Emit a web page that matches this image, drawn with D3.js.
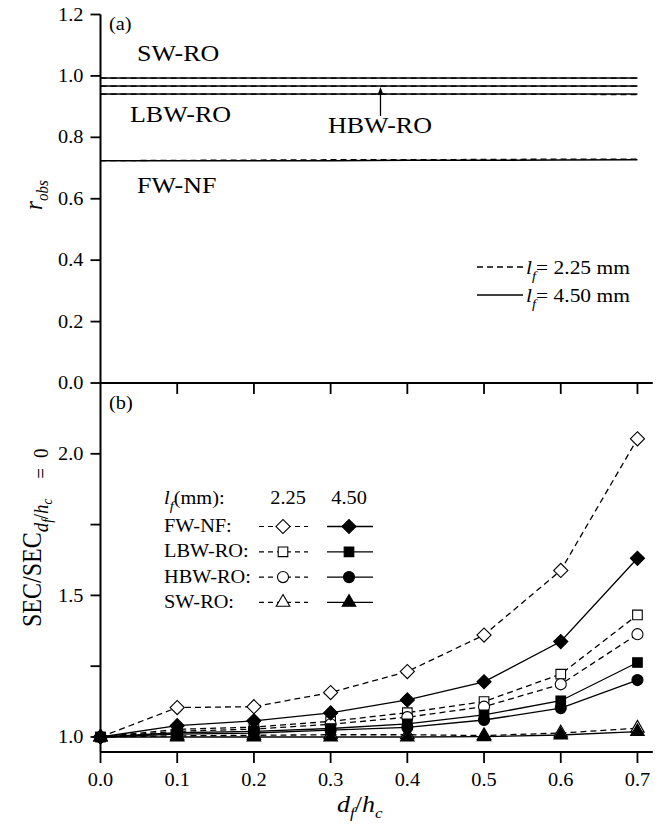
<!DOCTYPE html>
<html>
<head>
<meta charset="utf-8">
<script src="https://cdn.jsdelivr.net/npm/d3@7"></script>
<style>
  body { margin: 0; background: #fff; }
  svg { display: block; }
  text { font-family: "Liberation Serif", "Times New Roman", serif; fill: #000; }
</style>
</head>
<body>
<svg id="chart" width="661" height="825"></svg>
<script>
// ---- data ----------------------------------------------------------
const dfhc = [0, 0.1, 0.2, 0.3, 0.4, 0.5, 0.6, 0.7];
const configs = ["FW-NF", "LBW-RO", "HBW-RO", "SW-RO"];
const lfValues = ["2.25", "4.50"];

// (a) observed recovery r_obs
const robsFWNF225  = [0.724, 0.725, 0.726, 0.727, 0.727, 0.728, 0.729, 0.729];
const robsFWNF450  = [0.724, 0.724, 0.724, 0.724, 0.725, 0.725, 0.726, 0.727];
const robsLBWRO225 = [0.941, 0.941, 0.941, 0.941, 0.941, 0.941, 0.940, 0.939];
const robsLBWRO450 = [0.941, 0.941, 0.941, 0.941, 0.941, 0.941, 0.941, 0.941];
const robsHBWRO225 = [0.967, 0.967, 0.967, 0.967, 0.967, 0.967, 0.967, 0.967];
const robsHBWRO450 = [0.967, 0.967, 0.967, 0.967, 0.967, 0.967, 0.967, 0.967];
const robsSWRO225  = [0.993, 0.993, 0.993, 0.993, 0.993, 0.993, 0.993, 0.993];
const robsSWRO450  = [0.993, 0.993, 0.993, 0.993, 0.993, 0.993, 0.993, 0.993];

// (b) normalised specific energy consumption
const secFWNF225  = [1.0, 1.104, 1.107, 1.157, 1.231, 1.360, 1.588, 2.053];
const secFWNF450  = [1.0, 1.040, 1.057, 1.085, 1.131, 1.195, 1.337, 1.631];
const secLBWRO225 = [1.0, 1.027, 1.035, 1.055, 1.086, 1.125, 1.222, 1.431];
const secLBWRO450 = [1.0, 1.015, 1.020, 1.030, 1.046, 1.078, 1.128, 1.263];
const secHBWRO225 = [1.0, 1.020, 1.028, 1.045, 1.070, 1.107, 1.186, 1.363];
const secHBWRO450 = [1.0, 1.010, 1.014, 1.024, 1.034, 1.060, 1.102, 1.201];
const secSWRO225  = [1.0, 1.004, 1.006, 1.008, 1.008, 1.005, 1.014, 1.031];
const secSWRO450  = [1.0, 1.000, 1.000, 1.000, 1.000, 1.001, 1.007, 1.019];

const xTicks = [0, 0.1, 0.2, 0.3, 0.4, 0.5, 0.6, 0.7];
const aTicks = [0, 0.2, 0.4, 0.6, 0.8, 1.0, 1.2];
const bTicks = [1.0, 1.25, 1.5, 1.75, 2.0];
const bTickLabels = [1.0, 1.5, 2.0];

// ---- series tables --------------------------------------------------
const robsSeries = [
  { cfg: 0, lf: 0, v: robsFWNF225 },  { cfg: 0, lf: 1, v: robsFWNF450 },
  { cfg: 1, lf: 0, v: robsLBWRO225 }, { cfg: 1, lf: 1, v: robsLBWRO450 },
  { cfg: 2, lf: 0, v: robsHBWRO225 }, { cfg: 2, lf: 1, v: robsHBWRO450 },
  { cfg: 3, lf: 0, v: robsSWRO225 },  { cfg: 3, lf: 1, v: robsSWRO450 }
];
const secSeries = [
  { cfg: 0, lf: 0, v: secFWNF225 },  { cfg: 0, lf: 1, v: secFWNF450 },
  { cfg: 1, lf: 0, v: secLBWRO225 }, { cfg: 1, lf: 1, v: secLBWRO450 },
  { cfg: 2, lf: 0, v: secHBWRO225 }, { cfg: 2, lf: 1, v: secHBWRO450 },
  { cfg: 3, lf: 0, v: secSWRO225 },  { cfg: 3, lf: 1, v: secSWRO450 }
];

// ---- drawing ---------------------------------------------------------
const SX = 1.13;              // horizontal stretch applied to every text
const DASH = "6,4";
const svg = d3.select("#chart");

const x  = d3.scaleLinear().domain([0, 0.72]).range([100.5, 652.8]);
const yA = d3.scaleLinear().domain([0, 1.2]).range([383, 14.5]);
const yB = d3.scaleLinear().domain([0.947, 2.25]).range([752, 383]);

function richText(parent, px, py, parts, o = {}) {
  const size = o.size || 18;
  const tf = `translate(${px},${py})` +
    (o.rotate ? ` rotate(-90) scale(1,${SX})` : ` scale(${SX},1)`);
  const t = parent.append("text")
    .attr("transform", tf)
    .attr("text-anchor", o.anchor || "start")
    .attr("font-size", size);
  let cur = 0;
  parts.forEach(p => {
    const s = t.append("tspan").text(p.t);
    if (p.size) s.attr("font-size", p.size);
    if (p.it) s.attr("font-style", "italic");
    const target = p.dy || 0;
    if (target !== cur) s.attr("dy", target - cur);
    if (p.dx) s.attr("dx", p.dx);
    cur = target;
  });
  return t;
}

function styleAxis(g) {
  g.select(".domain").attr("stroke", "#000").attr("stroke-width", 2);
  g.selectAll(".tick line").attr("stroke", "#000").attr("stroke-width", 1.8);
}

// left axis, panel (a)
const axA = svg.append("g").attr("transform", "translate(100.5,0)")
  .call(d3.axisLeft(yA).tickValues(aTicks).tickFormat(d3.format(".1f"))
    .tickSize(10).tickSizeOuter(0).offset(0));
styleAxis(axA);
axA.selectAll(".tick text").attr("x", 0).attr("dy", "0.34em")
  .attr("font-size", 18).attr("font-family", null)
  .attr("transform", `translate(-17,0) scale(${SX},1)`);

// left axis, panel (b)
const axB = svg.append("g").attr("transform", "translate(100.5,0)")
  .call(d3.axisLeft(yB).tickValues(bTicks)
    .tickFormat(d => bTickLabels.includes(d) ? d3.format(".1f")(d) : "")
    .tickSize(10).tickSizeOuter(0).offset(0));
styleAxis(axB);
axB.selectAll(".tick text").attr("x", 0).attr("dy", "0.34em")
  .attr("font-size", 18).attr("font-family", null)
  .attr("transform", `translate(-17,0) scale(${SX},1)`);

// x axis between the panels (ticks only)
const axMid = svg.append("g").attr("transform", "translate(0,383)")
  .call(d3.axisBottom(x).tickValues(xTicks.slice(1)).tickFormat("")
    .tickSize(11).tickSizeOuter(0).offset(0));
styleAxis(axMid);

// bottom x axis
const axX = svg.append("g").attr("transform", "translate(0,752)")
  .call(d3.axisBottom(x).tickValues(xTicks).tickFormat(d3.format(".1f"))
    .tickSize(11).tickSizeOuter(0).offset(0));
styleAxis(axX);
axX.selectAll(".tick text").attr("y", 0).attr("dy", null)
  .attr("font-size", 18).attr("font-family", null)
  .attr("transform", `translate(0,34) scale(${SX},1)`);

// ---- panel (a) lines
const lineA = d3.line().x((d, i) => x(dfhc[i])).y(d => yA(d));
svg.append("g").selectAll("path").data(robsSeries).join("path")
  .attr("d", s => lineA(s.v))
  .attr("fill", "none").attr("stroke", "#000")
  .attr("stroke-width", s => s.lf === 0 ? 1.3 : 1.5)
  .attr("stroke-dasharray", s => s.lf === 0 ? DASH : null);

richText(svg, 109, 30, [{ t: "(a)" }], { size: 18 });
richText(svg, 137, 61, [{ t: configs[3] }], { size: 23 });
richText(svg, 130, 122, [{ t: configs[1] }], { size: 23 });
richText(svg, 328, 133, [{ t: configs[2] }], { size: 23 });
richText(svg, 137, 193, [{ t: configs[0] }], { size: 23 });

// arrow to the HBW-RO line
const arrowX = x(0.365);
svg.append("line").attr("x1", arrowX).attr("x2", arrowX)
  .attr("y1", 116).attr("y2", yA(robsHBWRO450[0]) + 6)
  .attr("stroke", "#000").attr("stroke-width", 1.3);
svg.append("path")
  .attr("d", `M${arrowX},${yA(robsHBWRO450[0]) + 1} l-3,8 h6 z`)
  .attr("fill", "#000");

// panel (a) legend
[0, 1].forEach(k => {
  const ly = 267 + k * 28;
  svg.append("line").attr("x1", 477).attr("x2", 523).attr("y1", ly).attr("y2", ly)
    .attr("stroke", "#000").attr("stroke-width", 1.4)
    .attr("stroke-dasharray", k === 0 ? DASH : null);
  richText(svg, 526, ly + 6.5, [
    { t: "l", it: true },
    { t: "f", it: true, size: 13, dy: 6 },
    { t: "= " + lfValues[k] + " mm", dy: 0 }
  ], { size: 19 });
});

// y-axis title (a)
richText(svg, 42, 210, [
  { t: "r", it: true, size: 23 },
  { t: "obs", it: true, size: 15, dy: 5 }
], { rotate: true });

// ---- panel (b)
richText(svg, 109, 409, [{ t: "(b)" }], { size: 18 });

const lineB = d3.line().x((d, i) => x(dfhc[i])).y(d => yB(d));
svg.append("g").selectAll("path").data(secSeries).join("path")
  .attr("d", s => lineB(s.v))
  .attr("fill", "none").attr("stroke", "#000")
  .attr("stroke-width", 1.3)
  .attr("stroke-dasharray", s => s.lf === 0 ? DASH : null);

const shapeOf = [
  d3.symbol(d3.symbolSquare, 100),   // diamond (rotated square)
  d3.symbol(d3.symbolSquare, 92),
  d3.symbol(d3.symbolCircle, 96),
  d3.symbol(d3.symbolTriangle, 80)
];
function marker(g, cfg, filled, cx, cy) {
  g.append("path")
    .attr("d", shapeOf[cfg]())
    .attr("transform", `translate(${cx},${cy})` + (cfg === 0 ? " rotate(45)" : ""))
    .attr("fill", filled ? "#000" : "#fff")
    .attr("stroke", "#000").attr("stroke-width", 1.1);
}

const markG = svg.append("g");
// open symbols first, filled symbols on top
[0, 1].forEach(lf => {
  secSeries.filter(s => s.lf === lf).forEach(s => {
    s.v.forEach((v, i) => marker(markG, s.cfg, lf === 1, x(dfhc[i]), yB(v)));
  });
});

// panel (b) legend
richText(svg, 164, 504, [
  { t: "l", it: true },
  { t: "f", it: true, size: 13, dy: 6 },
  { t: "(mm):", dy: 0 }
], { size: 18 });
richText(svg, 288, 504, [{ t: lfValues[0] }], { size: 18, anchor: "middle" });
richText(svg, 349, 504, [{ t: lfValues[1] }], { size: 18, anchor: "middle" });

const legG = svg.append("g");
configs.forEach((c, i) => {
  const base = 532 + i * 25.3;
  const cy = base - 5.5;
  richText(legG, 164, base, [{ t: c + ":" }], { size: 18 });
  legG.append("line").attr("x1", 259).attr("x2", 308).attr("y1", cy).attr("y2", cy)
    .attr("stroke", "#000").attr("stroke-width", 1.2).attr("stroke-dasharray", "5,4");
  legG.append("line").attr("x1", 327).attr("x2", 373).attr("y1", cy).attr("y2", cy)
    .attr("stroke", "#000").attr("stroke-width", 1.3);
  marker(legG, i, false, 283, cy);
  marker(legG, i, true, 349, cy);
});

// y-axis title (b)
richText(svg, 41, 627, [
  { t: "SEC/SEC", size: 24 },
  { t: "d", it: true, size: 19, dy: 6 },
  { t: "f", it: true, size: 13, dy: 10 },
  { t: "/", size: 19, dy: 6 },
  { t: "h", it: true, size: 19, dy: 6 },
  { t: "c", it: true, size: 13, dy: 10 },
  { t: "=", size: 19, dy: 6, dx: 20 },
  { t: "0", size: 19, dy: 6, dx: 10 }
], { rotate: true });

// x-axis title
richText(svg, 337, 812, [
  { t: "d", it: true, size: 23 },
  { t: "f", it: true, size: 15, dy: 6 },
  { t: "/", size: 23, dy: 0 },
  { t: "h", it: true, size: 23 },
  { t: "c", it: true, size: 15, dy: 6 }
]);
</script>
</body>
</html>
